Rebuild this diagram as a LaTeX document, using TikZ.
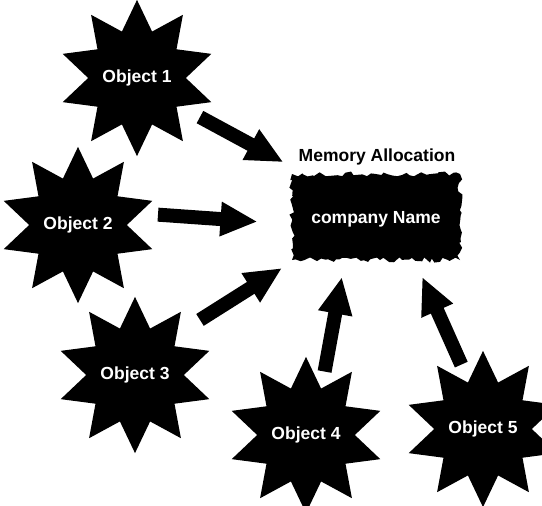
\documentclass[tikz,border=0pt]{standalone}
\usepackage{fontspec}
\setmainfont{Liberation Sans}
\usetikzlibrary{shapes.geometric,arrows.meta,decorations.pathmorphing}
\begin{document}
\begin{tikzpicture}[x=1pt,y=-1pt,
  labelfont/.style={font=\fontsize{17.5}{20}\selectfont\bfseries},
  burst/.style={star, star points=10, star point ratio=1.6, minimum size=144pt,
    inner sep=0pt, fill=black, text=white, labelfont},
  memblock/.style={fill=black, text=white, labelfont, minimum width=168pt,
    minimum height=86pt, text depth=0pt, decorate,
    decoration={random steps, segment length=4pt, amplitude=2.6pt}},
  fatarrow/.style={line width=14pt, -{Triangle[width=32pt,length=37pt]}},
  ]
\clip (0,0) rectangle (542,506);
\pgfmathsetseed{7}

% objects
\node[burst] (o1) at (137,78)  {Object 1};
\node[burst] (o2) at (78,225)  {Object 2};
\node[burst] (o3) at (135,375) {Object 3};
\node[burst] (o4) at (306,435) {Object 4};
\node[burst] (o5) at (483,429) {Object 5};

% memory block
\node[labelfont, inner sep=0pt, text depth=0pt] (lbl) at (377,155) {Memory Allocation};
\node[memblock] (mem) at (376,217) {company Name};

% arrows pointing into the memory block
\draw[fatarrow, shorten <=71.6pt, shorten >=104.7pt]
  ([shift={(0,5)}]o1.center) -- ([shift={(-0.5,-5)}]mem.center);
\draw[fatarrow, shorten <=80.2pt, shorten >=118.3pt]
  ([shift={(0,-16)}]o2.center) -- ([shift={(-0.5,13)}]mem.center);
\draw[fatarrow, shorten <=76.9pt, shorten >=110.6pt]
  ([shift={(0,-14)}]o3.center) -- ([shift={(-0.5,-8)}]mem.center);
\draw[fatarrow, shorten <=64.5pt, shorten >=62pt]
  ([shift={(7,0)}]o4.center) -- ([shift={(-23,-1)}]mem.center);
\draw[fatarrow, shorten <=70.5pt, shorten >=66.7pt]
  ([shift={(7,0)}]o5.center) -- ([shift={(19,-1)}]mem.center);
\end{tikzpicture}
\end{document}
